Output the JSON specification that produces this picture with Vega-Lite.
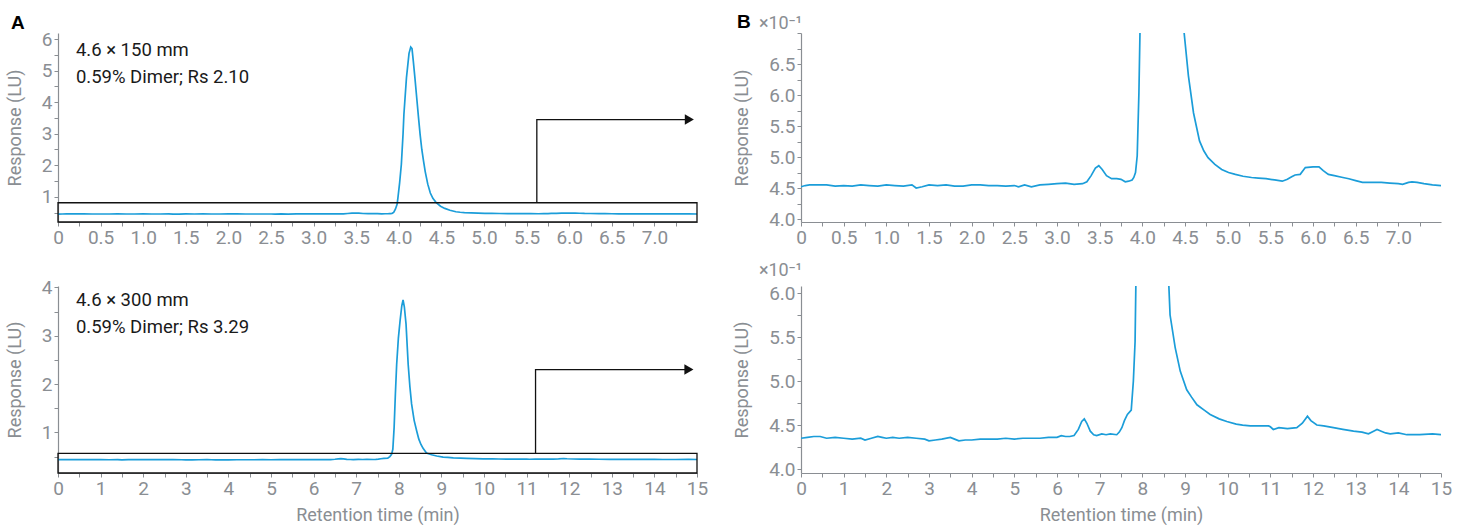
{
  "$schema": "https://vega.github.io/schema/vega-lite/v6.json",
  "autosize": {"type": "pad"},
  "padding": {"left": 6, "top": 13, "right": 5, "bottom": 5},
  "background": "white",
  "datasets": {
    "t150": [
      {"t":0,"v":0.452},{"t":0.05,"v":0.454},{"t":0.1,"v":0.455},{"t":0.2,"v":0.455},{"t":0.3,"v":0.455},{"t":0.4,"v":0.453},{"t":0.5,"v":0.454},{"t":0.6,"v":0.453},{"t":0.7,"v":0.455},{"t":0.8,"v":0.454},{"t":0.9,"v":0.453},{"t":1.0,"v":0.455},{"t":1.1,"v":0.454},{"t":1.2,"v":0.453},{"t":1.3,"v":0.455},{"t":1.35,"v":0.450},{"t":1.42,"v":0.452},{"t":1.5,"v":0.455},{"t":1.6,"v":0.454},{"t":1.7,"v":0.455},{"t":1.8,"v":0.453},{"t":1.9,"v":0.453},{"t":2.0,"v":0.455},{"t":2.1,"v":0.455},{"t":2.2,"v":0.454},{"t":2.3,"v":0.454},{"t":2.4,"v":0.453},{"t":2.5,"v":0.454},{"t":2.55,"v":0.452},{"t":2.62,"v":0.455},{"t":2.7,"v":0.452},{"t":2.8,"v":0.455},{"t":2.9,"v":0.456},{"t":3.0,"v":0.457},{"t":3.1,"v":0.458},{"t":3.2,"v":0.456},{"t":3.3,"v":0.457},{"t":3.35,"v":0.460},{"t":3.4,"v":0.470},{"t":3.45,"v":0.482},{"t":3.49,"v":0.486},{"t":3.53,"v":0.480},{"t":3.58,"v":0.470},{"t":3.64,"v":0.465},{"t":3.70,"v":0.465},{"t":3.75,"v":0.464},{"t":3.80,"v":0.460},{"t":3.84,"v":0.461},{"t":3.88,"v":0.463},{"t":3.90,"v":0.467},{"t":3.92,"v":0.475},{"t":3.94,"v":0.502},{"t":3.96,"v":0.604},{"t":3.98,"v":0.76},{"t":3.99,"v":0.97},{"t":4.01,"v":1.45},{"t":4.03,"v":2.03},{"t":4.05,"v":3.0},{"t":4.06,"v":3.62},{"t":4.09,"v":4.78},{"t":4.12,"v":5.55},{"t":4.14,"v":5.75},{"t":4.155,"v":5.70},{"t":4.17,"v":5.31},{"t":4.19,"v":4.75},{"t":4.21,"v":4.15},{"t":4.23,"v":3.55},{"t":4.25,"v":2.98},{"t":4.27,"v":2.50},{"t":4.29,"v":2.14},{"t":4.31,"v":1.80},{"t":4.34,"v":1.40},{"t":4.37,"v":1.12},{"t":4.40,"v":0.95},{"t":4.44,"v":0.81},{"t":4.49,"v":0.70},{"t":4.54,"v":0.631},{"t":4.60,"v":0.571},{"t":4.67,"v":0.526},{"t":4.72,"v":0.510},{"t":4.77,"v":0.499},{"t":4.85,"v":0.488},{"t":4.93,"v":0.480},{"t":5.01,"v":0.475},{"t":5.09,"v":0.472},{"t":5.18,"v":0.469},{"t":5.28,"v":0.467},{"t":5.36,"v":0.466},{"t":5.45,"v":0.465},{"t":5.55,"v":0.463},{"t":5.64,"v":0.461},{"t":5.70,"v":0.464},{"t":5.75,"v":0.468},{"t":5.79,"v":0.471},{"t":5.85,"v":0.472},{"t":5.91,"v":0.483},{"t":6.0,"v":0.484},{"t":6.07,"v":0.484},{"t":6.12,"v":0.478},{"t":6.18,"v":0.472},{"t":6.25,"v":0.470},{"t":6.35,"v":0.467},{"t":6.42,"v":0.465},{"t":6.5,"v":0.462},{"t":6.58,"v":0.459},{"t":6.7,"v":0.459},{"t":6.8,"v":0.459},{"t":6.9,"v":0.458},{"t":7.0,"v":0.457},{"t":7.05,"v":0.456},{"t":7.12,"v":0.459},{"t":7.16,"v":0.460},{"t":7.22,"v":0.459},{"t":7.3,"v":0.457},{"t":7.4,"v":0.455},{"t":7.5,"v":0.454}
    ],
    "t300": [
      {"t":0,"v":0.435},{"t":0.15,"v":0.436},{"t":0.3,"v":0.437},{"t":0.45,"v":0.437},{"t":0.6,"v":0.435},{"t":0.8,"v":0.436},{"t":1.0,"v":0.435},{"t":1.2,"v":0.434},{"t":1.4,"v":0.435},{"t":1.5,"v":0.433},{"t":1.65,"v":0.435},{"t":1.8,"v":0.437},{"t":1.9,"v":0.436},{"t":2.0,"v":0.435},{"t":2.15,"v":0.436},{"t":2.3,"v":0.435},{"t":2.5,"v":0.436},{"t":2.7,"v":0.435},{"t":2.9,"v":0.434},{"t":3.0,"v":0.432},{"t":3.15,"v":0.433},{"t":3.3,"v":0.434},{"t":3.5,"v":0.436},{"t":3.6,"v":0.434},{"t":3.7,"v":0.432},{"t":3.85,"v":0.433},{"t":4.0,"v":0.433},{"t":4.2,"v":0.434},{"t":4.4,"v":0.434},{"t":4.6,"v":0.434},{"t":4.8,"v":0.435},{"t":5.0,"v":0.434},{"t":5.2,"v":0.435},{"t":5.4,"v":0.435},{"t":5.6,"v":0.435},{"t":5.8,"v":0.436},{"t":6.0,"v":0.436},{"t":6.1,"v":0.438},{"t":6.2,"v":0.437},{"t":6.3,"v":0.437},{"t":6.4,"v":0.438},{"t":6.5,"v":0.445},{"t":6.58,"v":0.454},{"t":6.64,"v":0.457},{"t":6.70,"v":0.452},{"t":6.78,"v":0.443},{"t":6.86,"v":0.439},{"t":6.93,"v":0.438},{"t":7.05,"v":0.440},{"t":7.15,"v":0.439},{"t":7.25,"v":0.440},{"t":7.40,"v":0.439},{"t":7.46,"v":0.442},{"t":7.52,"v":0.447},{"t":7.58,"v":0.455},{"t":7.65,"v":0.462},{"t":7.74,"v":0.467},{"t":7.79,"v":0.50},{"t":7.83,"v":0.545},{"t":7.86,"v":0.65},{"t":7.89,"v":1.1},{"t":7.92,"v":1.8},{"t":7.95,"v":2.41},{"t":7.99,"v":2.95},{"t":8.03,"v":3.31},{"t":8.07,"v":3.62},{"t":8.10,"v":3.74},{"t":8.13,"v":3.60},{"t":8.17,"v":3.24},{"t":8.22,"v":2.41},{"t":8.26,"v":1.95},{"t":8.30,"v":1.59},{"t":8.36,"v":1.25},{"t":8.42,"v":1.03},{"t":8.47,"v":0.86},{"t":8.52,"v":0.75},{"t":8.57,"v":0.67},{"t":8.62,"v":0.61},{"t":8.65,"v":0.575},{"t":8.77,"v":0.538},{"t":8.89,"v":0.511},{"t":9.04,"v":0.490},{"t":9.15,"v":0.482},{"t":9.28,"v":0.473},{"t":9.45,"v":0.467},{"t":9.59,"v":0.462},{"t":9.8,"v":0.457},{"t":9.98,"v":0.454},{"t":10.2,"v":0.451},{"t":10.35,"v":0.450},{"t":10.53,"v":0.449},{"t":10.75,"v":0.449},{"t":10.96,"v":0.449},{"t":11.0,"v":0.448},{"t":11.07,"v":0.445},{"t":11.2,"v":0.447},{"t":11.4,"v":0.446},{"t":11.62,"v":0.447},{"t":11.75,"v":0.452},{"t":11.87,"v":0.460},{"t":11.95,"v":0.455},{"t":12.09,"v":0.450},{"t":12.25,"v":0.449},{"t":12.48,"v":0.447},{"t":12.7,"v":0.445},{"t":12.95,"v":0.443},{"t":13.15,"v":0.442},{"t":13.30,"v":0.440},{"t":13.42,"v":0.443},{"t":13.50,"v":0.445},{"t":13.6,"v":0.443},{"t":13.7,"v":0.441},{"t":13.81,"v":0.440},{"t":14.0,"v":0.441},{"t":14.2,"v":0.439},{"t":14.5,"v":0.439},{"t":14.8,"v":0.440},{"t":15.0,"v":0.439}
    ]
  },
  "columns": 2,
  "spacing": {"row": 64, "column": 104},
  "bounds": "flush",
  "concat": [
    {
      "width": 639, "height": 189,
      "layer": [
        {
          "data": {"name": "t150"},
          "mark": {"type": "line", "color": "#1b9dd9", "strokeWidth": 1.7, "clip": true},
          "encoding": {
            "x": {"field": "t", "type": "quantitative", "scale": {"domain": [0, 7.5], "nice": false, "zero": false},
                  "axis": {"title": null, "tickCount": 500, "values": [0,0.25,0.5,0.75,1,1.25,1.5,1.75,2,2.25,2.5,2.75,3,3.25,3.5,3.75,4,4.25,4.5,4.75,5,5.25,5.5,5.75,6,6.25,6.5,6.75,7,7.25],
                           "labelExpr": "datum.value % 0.5 == 0 ? (datum.value == 0 ? '0' : format(datum.value, '.1f')) : ''"}},
            "y": {"field": "v", "type": "quantitative", "scale": {"domain": [0.2, 6.195], "nice": false, "zero": false},
                  "axis": {"title": "Response (LU)", "titlePadding": 17, "tickCount": 500, "values": [0.5,1,1.5,2,2.5,3,3.5,4,4.5,5,5.5,6],
                           "labelExpr": "datum.value % 1 == 0 ? format(datum.value, 'd') : ''"}}
          }
        },
        {
          "data": {"values": [{"t": 0, "t2": 7.5, "v": 0.2, "v2": 0.81}]},
          "mark": {"type": "rect", "fillOpacity": 0, "stroke": "#111111", "strokeWidth": 1.3},
          "encoding": {"x": {"field": "t", "type": "quantitative"}, "x2": {"field": "t2"}, "y": {"field": "v", "type": "quantitative"}, "y2": {"field": "v2"}}
        },
        {
          "data": {"values": [{"t": 5.62, "v": 0.81, "o": 0}, {"t": 5.62, "v": 3.45, "o": 1}, {"t": 7.38, "v": 3.45, "o": 2}]},
          "mark": {"type": "line", "color": "#111111", "strokeWidth": 1.3},
          "encoding": {"x": {"field": "t", "type": "quantitative"}, "y": {"field": "v", "type": "quantitative"}, "order": {"field": "o"}}
        },
        {
          "data": {"values": [{"t": 7.41, "v": 3.45}]},
          "mark": {"type": "point", "shape": "triangle-right", "filled": true, "color": "#111111", "size": 110, "opacity": 1},
          "encoding": {"x": {"field": "t", "type": "quantitative"}, "y": {"field": "v", "type": "quantitative"}}
        },
        {
          "data": {"values": [{"t": 0.21, "v": 5.465, "label": "4.6 × 150 mm"}, {"t": 0.21, "v": 4.609, "label": "0.59% Dimer; Rs 2.10"}]},
          "mark": {"type": "text", "align": "left", "baseline": "alphabetic", "font": "Roboto", "fontSize": 18.5, "color": "#1a1a1a"},
          "encoding": {"x": {"field": "t", "type": "quantitative"}, "y": {"field": "v", "type": "quantitative"}, "text": {"field": "label"}}
        },
        {
          "data": {"values": [{"t": 0, "v": 6.195, "label": "A"}]},
          "mark": {"type": "text", "align": "left", "baseline": "alphabetic", "dx": -47, "dy": -4, "font": "Liberation Sans", "fontWeight": "bold", "fontSize": 19, "color": "#000000"},
          "encoding": {"x": {"field": "t", "type": "quantitative"}, "y": {"field": "v", "type": "quantitative"}, "text": {"field": "label"}}
        }
      ]
    },
    {
      "width": 640, "height": 189,
      "layer": [
        {
          "data": {"name": "t150"},
          "mark": {"type": "line", "color": "#1b9dd9", "strokeWidth": 1.7, "clip": true},
          "encoding": {
            "x": {"field": "t", "type": "quantitative", "scale": {"domain": [0, 7.5], "nice": false, "zero": false},
                  "axis": {"title": null, "tickCount": 500, "values": [0,0.25,0.5,0.75,1,1.25,1.5,1.75,2,2.25,2.5,2.75,3,3.25,3.5,3.75,4,4.25,4.5,4.75,5,5.25,5.5,5.75,6,6.25,6.5,6.75,7,7.25],
                           "labelExpr": "datum.value % 0.5 == 0 ? (datum.value == 0 ? '0' : format(datum.value, '.1f')) : ''"}},
            "y": {"field": "v", "type": "quantitative", "scale": {"domain": [0.3952, 0.7], "nice": false, "zero": false},
                  "axis": {"title": "Response (LU)", "titlePadding": 17, "tickCount": 500, "values": [0.4,0.425,0.45,0.475,0.5,0.525,0.55,0.575,0.6,0.625,0.65,0.675,0.7],
                           "labelExpr": "(datum.value < 0.69 && abs(datum.value*20 - round(datum.value*20)) < 0.001) ? format(datum.value*10, '.1f') : ''"}}
          }
        },
        {
          "data": {"values": [{"t": 0, "v": 0.7, "label": "B"}]},
          "mark": {"type": "text", "align": "left", "baseline": "alphabetic", "dx": -64, "dy": -5, "font": "Liberation Sans", "fontWeight": "bold", "fontSize": 19, "color": "#000000"},
          "encoding": {"x": {"field": "t", "type": "quantitative"}, "y": {"field": "v", "type": "quantitative"}, "text": {"field": "label"}}
        },
        {
          "data": {"values": [{"t": 0, "v": 0.7, "label": "×10⁻¹"}]},
          "mark": {"type": "text", "align": "right", "baseline": "alphabetic", "dx": 1, "dy": -4, "font": "Roboto", "fontSize": 18, "color": "#8a8e93"},
          "encoding": {"x": {"field": "t", "type": "quantitative"}, "y": {"field": "v", "type": "quantitative"}, "text": {"field": "label"}}
        }
      ]
    },
    {
      "width": 639, "height": 187,
      "layer": [
        {
          "data": {"name": "t300"},
          "mark": {"type": "line", "color": "#1b9dd9", "strokeWidth": 1.7, "clip": true},
          "encoding": {
            "x": {"field": "t", "type": "quantitative", "scale": {"domain": [0, 15], "nice": false, "zero": false},
                  "axis": {"title": "Retention time (min)", "titlePadding": 8, "tickCount": 500, "values": [0,0.5,1,1.5,2,2.5,3,3.5,4,4.5,5,5.5,6,6.5,7,7.5,8,8.5,9,9.5,10,10.5,11,11.5,12,12.5,13,13.5,14,14.5,15],
                           "labelExpr": "datum.value % 1 == 0 ? format(datum.value, 'd') : ''"}},
            "y": {"field": "v", "type": "quantitative", "scale": {"domain": [0.16, 4.03], "nice": false, "zero": false},
                  "axis": {"title": "Response (LU)", "titlePadding": 17, "tickCount": 500, "values": [0.5,1,1.5,2,2.5,3,3.5,4],
                           "labelExpr": "datum.value % 1 == 0 ? format(datum.value, 'd') : ''"}}
          }
        },
        {
          "data": {"values": [{"t": 0, "t2": 15, "v": 0.16, "v2": 0.565}]},
          "mark": {"type": "rect", "fillOpacity": 0, "stroke": "#111111", "strokeWidth": 1.3},
          "encoding": {"x": {"field": "t", "type": "quantitative"}, "x2": {"field": "t2"}, "y": {"field": "v", "type": "quantitative"}, "y2": {"field": "v2"}}
        },
        {
          "data": {"values": [{"t": 11.21, "v": 0.565, "o": 0}, {"t": 11.21, "v": 2.30, "o": 1}, {"t": 14.76, "v": 2.30, "o": 2}]},
          "mark": {"type": "line", "color": "#111111", "strokeWidth": 1.3},
          "encoding": {"x": {"field": "t", "type": "quantitative"}, "y": {"field": "v", "type": "quantitative"}, "order": {"field": "o"}}
        },
        {
          "data": {"values": [{"t": 14.81, "v": 2.30}]},
          "mark": {"type": "point", "shape": "triangle-right", "filled": true, "color": "#111111", "size": 110, "opacity": 1},
          "encoding": {"x": {"field": "t", "type": "quantitative"}, "y": {"field": "v", "type": "quantitative"}}
        },
        {
          "data": {"values": [{"t": 0.42, "v": 3.606, "label": "4.6 × 300 mm"}, {"t": 0.42, "v": 3.057, "label": "0.59% Dimer; Rs 3.29"}]},
          "mark": {"type": "text", "align": "left", "baseline": "alphabetic", "font": "Roboto", "fontSize": 18.5, "color": "#1a1a1a"},
          "encoding": {"x": {"field": "t", "type": "quantitative"}, "y": {"field": "v", "type": "quantitative"}, "text": {"field": "label"}}
        }
      ]
    },
    {
      "width": 640, "height": 187,
      "layer": [
        {
          "data": {"name": "t300"},
          "mark": {"type": "line", "color": "#1b9dd9", "strokeWidth": 1.7, "clip": true},
          "encoding": {
            "x": {"field": "t", "type": "quantitative", "scale": {"domain": [0, 15], "nice": false, "zero": false},
                  "axis": {"title": "Retention time (min)", "titlePadding": 8, "tickCount": 500, "values": [0,0.5,1,1.5,2,2.5,3,3.5,4,4.5,5,5.5,6,6.5,7,7.5,8,8.5,9,9.5,10,10.5,11,11.5,12,12.5,13,13.5,14,14.5,15],
                           "labelExpr": "datum.value % 1 == 0 ? format(datum.value, 'd') : ''"}},
            "y": {"field": "v", "type": "quantitative", "scale": {"domain": [0.3955, 0.608], "nice": false, "zero": false},
                  "axis": {"title": "Response (LU)", "titlePadding": 17, "tickCount": 500, "values": [0.4,0.425,0.45,0.475,0.5,0.525,0.55,0.575,0.6],
                           "labelExpr": "abs(datum.value*20 - round(datum.value*20)) < 0.001 ? format(datum.value*10, '.1f') : ''"}}
          }
        },
        {
          "data": {"values": [{"t": 0, "v": 0.608, "label": "×10⁻¹"}]},
          "mark": {"type": "text", "align": "right", "baseline": "alphabetic", "dx": 1, "dy": -10, "font": "Roboto", "fontSize": 18, "color": "#8a8e93"},
          "encoding": {"x": {"field": "t", "type": "quantitative"}, "y": {"field": "v", "type": "quantitative"}, "text": {"field": "label"}}
        }
      ]
    }
  ],
  "config": {
    "view": {"stroke": null},
    "font": "Roboto",
    "axis": {
      "grid": false,
      "labelFont": "Roboto", "labelFontSize": 19, "labelColor": "#8a8e93",
      "titleFont": "Roboto", "titleFontSize": 18, "titleFontWeight": "normal", "titleColor": "#8a8e93",
      "domainColor": "#8a8e93", "tickColor": "#8a8e93", "domainWidth": 1.2, "tickWidth": 1,
      "tickSize": 4, "labelPadding": 2, "labelFlush": false, "labelOverlap": false
    }
  }
}
